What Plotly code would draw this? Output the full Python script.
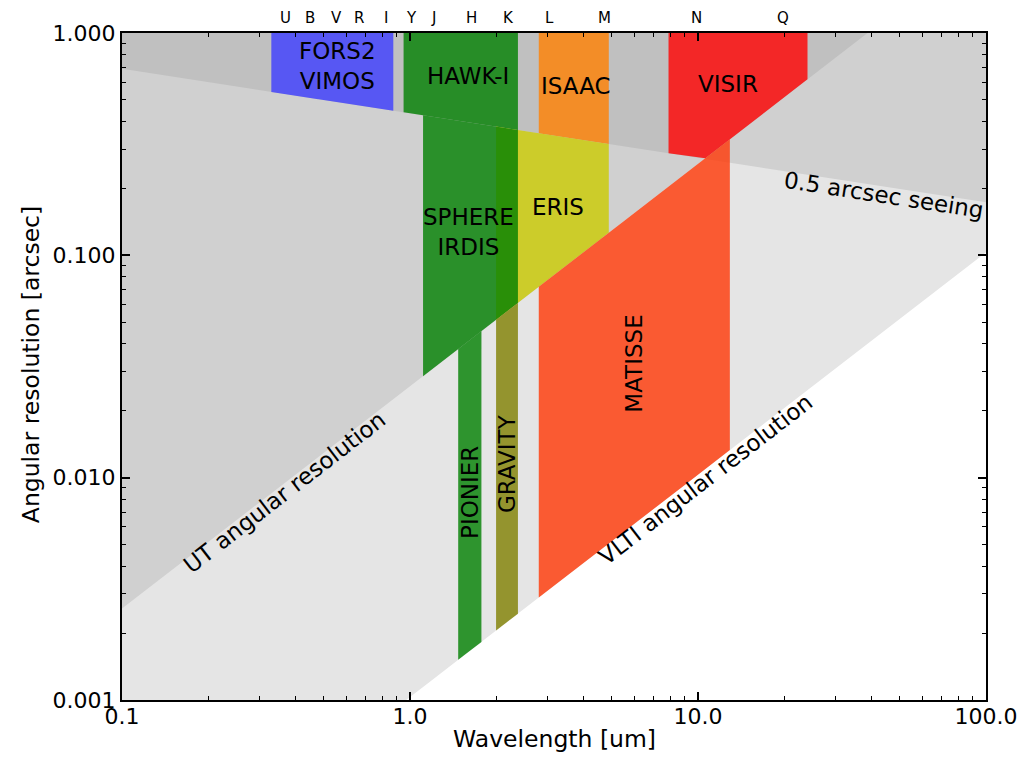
import numpy as np
import plotly.graph_objects as go

# ---------------- data ----------------
RAD2ARCSEC = 206265.0
UT_DIAMETER_M = 8.0          # Unit Telescope aperture
VLTI_BASELINE_M = 200.0      # VLTI longest baseline
SEEING_ARCSEC = 0.5          # seeing at reference wavelength
SEEING_REF_UM = 0.5
SEEING_SLOPE = -0.2

# instruments: name, lambda min, lambda max [um], lower bound, upper bound, colour
inst_names = ["FORS2 VIMOS", "HAWK-I", "ISAAC", "VISIR", "ERIS", "SPHERE IRDIS",
              "MATISSE", "PIONIER", "GRAVITY"]
inst_lo = [0.33, 0.95, 2.8, 7.9, 1.99, 1.11, 2.8, 1.47, 1.99]
inst_hi = [0.875, 2.37, 4.9, 24.0, 4.9, 2.37, 12.9, 1.77, 2.37]
inst_bottom = ["seeing", "seeing", "seeing", "max_seeing_ut", "ut", "ut", "vlti", "vlti", "vlti"]
inst_top = ["one", "one", "one", "one", "seeing", "seeing", "ut", "ut", "ut"]
inst_colors = ["rgba(60,60,255,0.8)", "rgba(0,128,0,0.8)", "rgba(255,127,0,0.8)",
               "rgba(255,0,0,0.8)", "rgba(203,203,0,0.8)", "rgba(0,128,0,0.8)",
               "rgba(255,55,5,0.8)", "rgba(0,128,0,0.8)", "rgba(128,128,0,0.8)"]

# instrument labels (text, lambda, resolution, rotation)
label_text = ["FORS2<br>VIMOS", "HAWK-I", "ISAAC", "VISIR", "SPHERE<br>IRDIS", "ERIS",
              "MATISSE", "PIONIER", "GRAVITY"]
label_x = [0.558, 1.584, 3.756, 12.66, 1.594, 3.256, 6.02, 1.622, 2.175]
label_y = [0.707, 0.640, 0.579, 0.591, 0.1277, 0.1646, 0.0324, 0.00858, 0.01154]
label_rot = [0, 0, 0, 0, 0, 0, -90, -90, -90]

# line labels
line_text = ["0.5 arcsec seeing", "UT angular resolution", "VLTI angular resolution"]
line_x = [44.2, 0.368, 10.66]
line_y = [0.1867, 0.00858, 0.00986]
line_rot = [8.8, -37.7, -37.7]

# photometric bands along the top
band_names = ["U", "B", "V", "R", "I", "Y", "J", "H", "K", "L", "M", "N", "Q"]
band_lambda = [0.37, 0.45, 0.555, 0.665, 0.825, 1.015, 1.205, 1.63, 2.19, 3.05, 4.75, 9.9, 19.8]

x_major = [0.1, 1.0, 10.0, 100.0]
x_major_text = ["0.1", "1.0", "10.0", "100.0"]
y_major = [0.001, 0.01, 0.1, 1.0]
y_major_text = ["0.001", "0.010", "0.100", "1.000"]

X_RANGE = (0.1, 100.0)
Y_RANGE = (0.001, 1.0)

# ---------------- curves ----------------
def ut(l):
    return RAD2ARCSEC * np.asarray(l) * 1e-6 / UT_DIAMETER_M

def vlti(l):
    return RAD2ARCSEC * np.asarray(l) * 1e-6 / VLTI_BASELINE_M

def seeing(l):
    return SEEING_ARCSEC * (np.asarray(l) / SEEING_REF_UM) ** SEEING_SLOPE

def one(l):
    return np.full_like(np.asarray(l, dtype=float), Y_RANGE[1])

def max_seeing_ut(l):
    return np.maximum(seeing(l), ut(l))

def min_seeing_ut(l):
    return np.minimum(seeing(l), ut(l))

funcs = {"ut": ut, "vlti": vlti, "seeing": seeing, "one": one,
         "max_seeing_ut": max_seeing_ut, "min_seeing_ut": min_seeing_ut}


def band_polygon(lo, hi, fbot, ftop, n=300):
    lam = np.logspace(np.log10(lo), np.log10(hi), n)
    yb = fbot(lam)
    yt = ftop(lam)
    yb = np.minimum(yb, yt)
    xs = np.concatenate([lam, lam[::-1], lam[:1]])
    ys = np.concatenate([yb, yt[::-1], yb[:1]])
    return xs, ys


fig = go.Figure()

def add_poly(xs, ys, color):
    fig.add_trace(go.Scatter(x=xs, y=ys, mode="lines", fill="toself",
                             fillcolor=color, line=dict(width=0),
                             hoverinfo="skip", showlegend=False))

# backgrounds
add_poly(*band_polygon(X_RANGE[0], X_RANGE[1], vlti, one), "#e5e5e5")
add_poly(*band_polygon(X_RANGE[0], X_RANGE[1], min_seeing_ut, one), "#d0d0d0")
add_poly(*band_polygon(X_RANGE[0], X_RANGE[1], max_seeing_ut, one), "#c0c0c0")

# instruments
for lo, hi, b, t, c in zip(inst_lo, inst_hi, inst_bottom, inst_top, inst_colors):
    add_poly(*band_polygon(lo, hi, funcs[b], funcs[t]), c)

FONT = "DejaVu Sans"
annotations = []
for t, x, y, r in zip(label_text, label_x, label_y, label_rot):
    annotations.append(dict(text=t, x=np.log10(x), y=np.log10(y), xref="x", yref="y",
                            showarrow=False, textangle=r,
                            font=dict(family=FONT, size=23, color="black")))
for t, x, y, r in zip(line_text, line_x, line_y, line_rot):
    annotations.append(dict(text=t, x=np.log10(x), y=np.log10(y), xref="x", yref="y",
                            showarrow=False, textangle=r,
                            font=dict(family=FONT, size=23, color="black")))
for t, x in zip(band_names, band_lambda):
    annotations.append(dict(text=t, x=np.log10(x), y=1.0225, xref="x", yref="paper",
                            showarrow=False, yanchor="middle",
                            font=dict(family=FONT, size=15, color="black")))
annotations.append(dict(text="Wavelength [um]", x=0.501, y=-0.0585, xref="paper", yref="paper",
                        showarrow=False, yanchor="middle",
                        font=dict(family=FONT, size=23.5, color="black")))
annotations.append(dict(text="Angular resolution [arcsec]", x=-0.1053, y=0.502,
                        xref="paper", yref="paper", showarrow=False, textangle=-90,
                        xanchor="center", yanchor="middle",
                        font=dict(family=FONT, size=23.5, color="black")))

def minor_vals(lo_exp, hi_exp):
    return [k * 10.0 ** e for e in range(lo_exp, hi_exp) for k in range(2, 10)]

axis_common = dict(type="log", showgrid=False, zeroline=False, showline=True,
                   linecolor="black", linewidth=2, mirror="ticks", automargin=False,
                   ticks="inside", ticklen=8, tickwidth=1.5, tickcolor="black",
                   tickfont=dict(family=FONT, size=22, color="black"))

fig.update_layout(
    width=1024, height=760,
    margin=dict(l=122, r=38, t=33, b=60),
    paper_bgcolor="white", plot_bgcolor="white",
    xaxis=dict(range=[np.log10(X_RANGE[0]), np.log10(X_RANGE[1])],
               tickmode="array", tickvals=x_major, ticktext=x_major_text,
               ticklabelstandoff=-4,
               minor=dict(ticks="inside", ticklen=4, tickwidth=1, tickcolor="black",
                          tickmode="array", tickvals=minor_vals(-1, 2)),
               **axis_common),
    yaxis=dict(range=[np.log10(Y_RANGE[0]), np.log10(Y_RANGE[1])],
               tickmode="array", tickvals=y_major, ticktext=y_major_text,
               minor=dict(ticks="inside", ticklen=4, tickwidth=1, tickcolor="black",
                          tickmode="array", tickvals=minor_vals(-3, 0)),
               **axis_common),
    annotations=annotations,
    font=dict(family=FONT),
)

fig.write_html("out.html")
